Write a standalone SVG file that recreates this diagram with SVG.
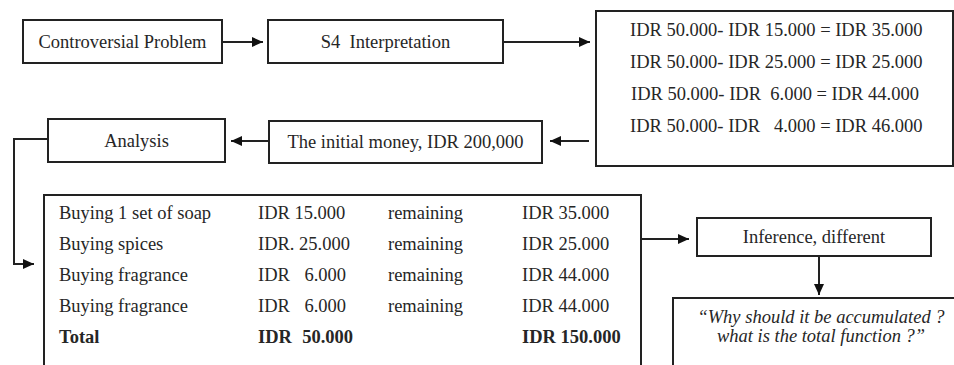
<svg xmlns="http://www.w3.org/2000/svg" width="954" height="365" viewBox="0 0 954 365">
<style>
  .box { fill: #ffffff; stroke: #222222; stroke-width: 2; }
  .t { font-family: "Liberation Serif", "Times New Roman", serif; font-size: 18.5px; fill: #262626; }
  .c { text-anchor: middle; }
  .e { text-anchor: end; }
  .b { font-weight: bold; }
  .i { font-style: italic; }
  .pre { white-space: pre; }
  .conn { fill: none; stroke: #222222; stroke-width: 2; }
</style>
<defs>
  <marker id="arrow" viewBox="0 0 11 10" refX="11" refY="5" markerWidth="11" markerHeight="10" markerUnits="userSpaceOnUse" orient="auto">
    <path d="M0,0 L11,5 L0,10 z" fill="#111111"/>
  </marker>
</defs>
<rect width="954" height="365" fill="#ffffff"/>

<g id="controversial">
  <rect class="box" x="23" y="20" width="199" height="43"/>
  <text class="t c" x="122.5" y="48">Controversial Problem</text>
</g>

<g id="interpretation">
  <rect class="box" x="268" y="20" width="235" height="43"/>
  <text class="t c pre" x="385.5" y="48" xml:space="preserve">S4  Interpretation</text>
</g>

<g id="calculations">
  <rect class="box" x="596" y="11" width="357" height="155"/>
  <text class="t pre" x="630" y="36" xml:space="preserve">IDR 50.000- IDR 15.000 = IDR 35.000</text>
  <text class="t pre" x="630" y="68" xml:space="preserve">IDR 50.000- IDR 25.000 = IDR 25.000</text>
  <text class="t pre" x="631" y="100" xml:space="preserve">IDR 50.000- IDR  6.000 = IDR 44.000</text>
  <text class="t pre" x="630" y="132" xml:space="preserve">IDR 50.000- IDR   4.000 = IDR 46.000</text>
</g>

<g id="initial-money">
  <rect class="box" x="269" y="121" width="273" height="42"/>
  <text class="t c" x="405.5" y="148">The initial money, IDR 200,000</text>
</g>

<g id="analysis">
  <rect class="box" x="48" y="119" width="177" height="43"/>
  <text class="t c" x="136.5" y="147">Analysis</text>
</g>

<g id="table">
  <rect class="box" x="44" y="195" width="597" height="180"/>
  <text class="t" x="59" y="219">Buying 1 set of soap</text>
  <text class="t" x="258" y="219">IDR 15.000</text>
  <text class="t" x="388" y="219">remaining</text>
  <text class="t" x="522" y="219">IDR 35.000</text>

  <text class="t" x="59" y="250">Buying spices</text>
  <text class="t" x="258" y="250">IDR. 25.000</text>
  <text class="t" x="388" y="250">remaining</text>
  <text class="t" x="522" y="250">IDR 25.000</text>

  <text class="t" x="59" y="281">Buying fragrance</text>
  <text class="t" x="258" y="281">IDR</text>
  <text class="t e" x="346" y="281">6.000</text>
  <text class="t" x="388" y="281">remaining</text>
  <text class="t" x="522" y="281">IDR 44.000</text>

  <text class="t" x="59" y="312">Buying fragrance</text>
  <text class="t" x="258" y="312">IDR</text>
  <text class="t e" x="346" y="312">6.000</text>
  <text class="t" x="388" y="312">remaining</text>
  <text class="t" x="522" y="312">IDR 44.000</text>

  <text class="t b" x="59" y="343">Total</text>
  <text class="t b" x="258" y="343">IDR</text>
  <text class="t b e" x="353" y="343">50.000</text>
  <text class="t b" x="522" y="343">IDR 150.000</text>
</g>

<g id="inference">
  <rect class="box" x="697" y="218" width="234" height="38"/>
  <text class="t c" x="814" y="243">Inference, different</text>
</g>

<g id="question">
  <rect class="box" x="673" y="298" width="290" height="80"/>
  <text class="t c i" x="821" y="323">“Why should it be accumulated ?</text>
  <text class="t c i" x="821" y="342">what is the total function ?”</text>
</g>

<g id="connectors">
  <line class="conn" x1="222" y1="42" x2="263" y2="42" marker-end="url(#arrow)"/>
  <line class="conn" x1="503" y1="42" x2="590" y2="42" marker-end="url(#arrow)"/>
  <line class="conn" x1="589" y1="141" x2="550" y2="141" marker-end="url(#arrow)"/>
  <line class="conn" x1="269" y1="141" x2="231" y2="141" marker-end="url(#arrow)"/>
  <polyline class="conn" points="48,139 14,139 14,264 34,264" marker-end="url(#arrow)"/>
  <line class="conn" x1="641" y1="239" x2="689" y2="239" marker-end="url(#arrow)"/>
  <line class="conn" x1="819" y1="256" x2="819" y2="295" marker-end="url(#arrow)"/>
</g>
</svg>
